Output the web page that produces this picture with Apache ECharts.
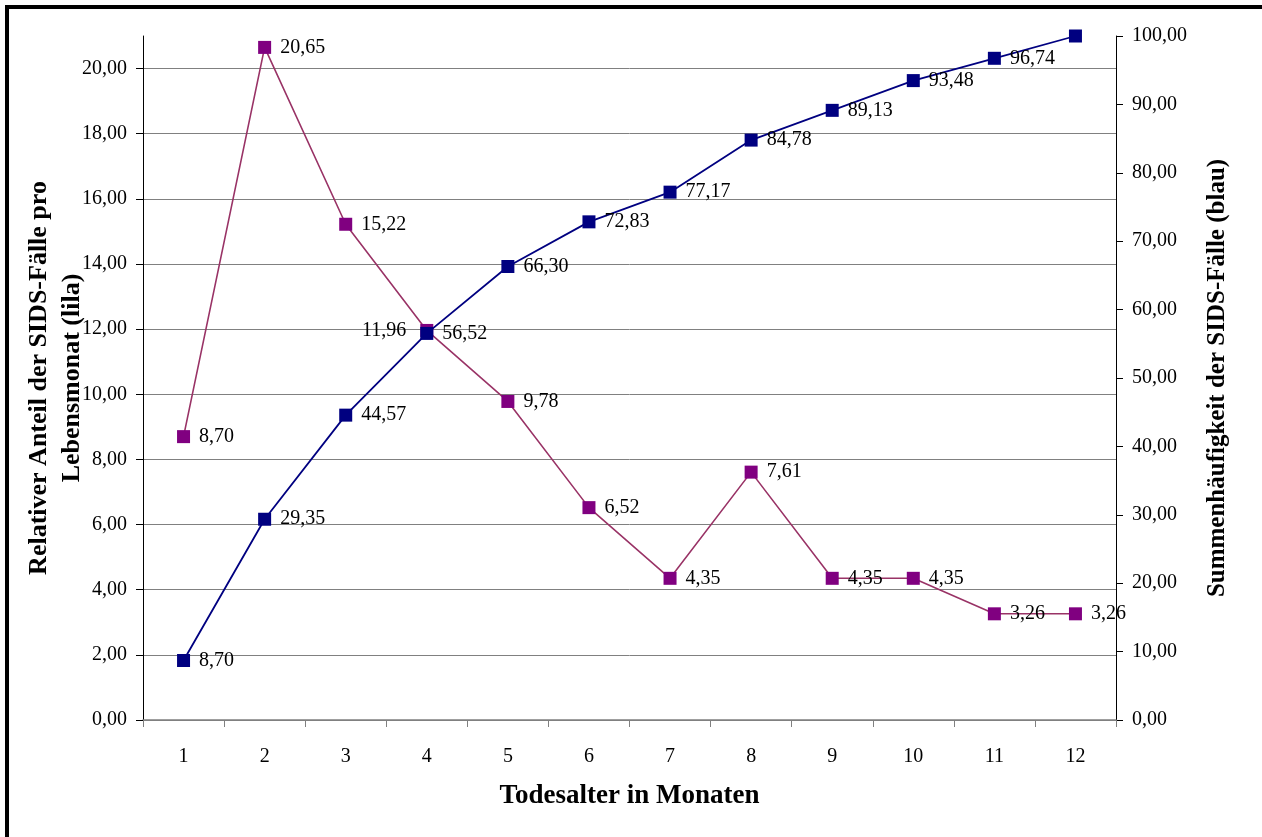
<!DOCTYPE html>
<html>
<head>
<meta charset="utf-8">
<style>
  html, body { margin: 0; padding: 0; background: #fff; }
  #chart { width: 1262px; height: 837px; }
</style>
<script src="https://cdn.jsdelivr.net/npm/echarts@6/dist/echarts.min.js"></script>
</head>
<body>
<div id="chart"></div>
<script>
// Age at death in months
const months = ['1', '2', '3', '4', '5', '6', '7', '8', '9', '10', '11', '12'];
// Relative share of SIDS cases per month of life (purple, left axis)
const relativeShare = [8.70, 20.65, 15.22, 11.96, 9.78, 6.52, 4.35, 7.61, 4.35, 4.35, 3.26, 3.26];
// Cumulative frequency of SIDS cases (blue, right axis)
const cumulative = [8.70, 29.35, 44.57, 56.52, 66.30, 72.83, 77.17, 84.78, 89.13, 93.48, 96.74, 100.00];

const FONT = '"Liberation Serif", "Times New Roman", serif';
const fmt = v => Number(v).toFixed(2).replace('.', ',');

const chart = echarts.init(document.getElementById('chart'), null, { renderer: 'canvas' });

const labelStyle = {
  show: true,
  position: 'right',
  distance: 9,
  fontFamily: FONT,
  fontSize: 20,
  color: '#000',
  formatter: p => fmt(p.value)
};

chart.setOption({
  backgroundColor: '#fff',
  animation: false,
  grid: { left: 143, right: 146, top: 36, bottom: 117 },
  graphic: [{
    type: 'rect',
    shape: { x: 7, y: 7, width: 1400, height: 1000 },
    style: { fill: 'none', stroke: '#000', lineWidth: 4 },
    silent: true
  }],
  xAxis: {
    type: 'category',
    data: months,
    boundaryGap: true,
    name: 'Todesalter in Monaten',
    nameLocation: 'middle',
    nameGap: 63,
    nameMoveOverlap: false,
    nameTextStyle: { fontFamily: FONT, fontSize: 27, fontWeight: 'bold', color: '#000' },
    axisLine: { lineStyle: { color: '#808080', width: 1.5 } },
    axisTick: { show: true, inside: false, length: 7, lineStyle: { color: '#808080' } },
    axisLabel: { fontFamily: FONT, fontSize: 20, color: '#000', margin: 27 },
    splitLine: { show: false }
  },
  yAxis: [{
    type: 'value',
    position: 'left',
    min: 0,
    max: 21,
    interval: 2,
    name: 'Relativer Anteil der SIDS-Fälle pro\nLebensmonat (lila)',
    nameLocation: 'middle',
    nameRotate: 90,
    nameGap: 54,
    nameMoveOverlap: false,
    nameTextStyle: { fontFamily: FONT, fontSize: 26, fontWeight: 'bold', color: '#000', lineHeight: 33 },
    axisLine: { show: true, lineStyle: { color: '#000', width: 1 } },
    axisTick: { show: true, length: 7, lineStyle: { color: '#000' } },
    axisLabel: {
      fontFamily: FONT, fontSize: 20, color: '#000', margin: 16,
      showMaxLabel: false,
      formatter: v => (v > 20 ? '' : fmt(v))
    },
    splitLine: { show: true, showMaxLine: false, lineStyle: { color: '#808080', width: 1 } }
  }, {
    type: 'value',
    position: 'right',
    min: 0,
    max: 100,
    interval: 10,
    name: 'Summenhäufigkeit der SIDS-Fälle (blau)',
    nameLocation: 'middle',
    nameRotate: 90,
    nameGap: 89,
    nameMoveOverlap: false,
    nameTextStyle: { fontFamily: FONT, fontSize: 25, fontWeight: 'bold', color: '#000' },
    axisLine: { show: true, lineStyle: { color: '#000', width: 1 } },
    axisTick: { show: true, length: 7, lineStyle: { color: '#000' } },
    axisLabel: { fontFamily: FONT, fontSize: 20, color: '#000', margin: 16, formatter: v => fmt(v) },
    splitLine: { show: false }
  }],
  series: [{
    name: 'Relativer Anteil',
    type: 'line',
    yAxisIndex: 0,
    data: relativeShare.map((v, i) => i === 3
      ? { value: v, label: { position: 'left', distance: 14 } }
      : v),
    symbol: 'rect',
    symbolSize: 13,
    itemStyle: { color: '#800080' },
    lineStyle: { color: '#993366', width: 1.6 },
    label: labelStyle,
    z: 2
  }, {
    name: 'Summenhäufigkeit',
    type: 'line',
    yAxisIndex: 1,
    data: cumulative.map((v, i) => i === cumulative.length - 1
      ? { value: v, label: { show: false } }
      : v),
    symbol: 'rect',
    symbolSize: 13,
    itemStyle: { color: '#000080' },
    lineStyle: { color: '#000080', width: 1.8 },
    label: labelStyle,
    z: 3
  }]
});
</script>
</body>
</html>
